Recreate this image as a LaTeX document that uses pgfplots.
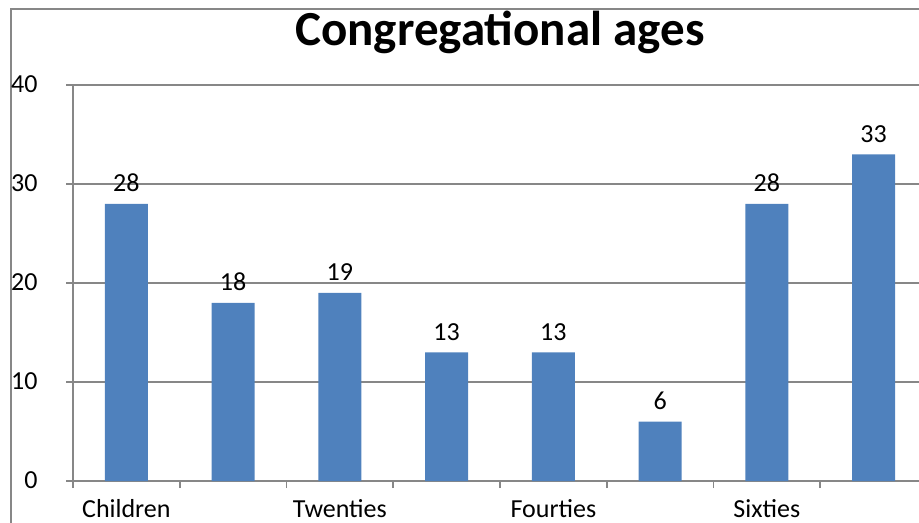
\documentclass[border=0pt]{standalone}
\usepackage{pgfplots}
\pgfplotsset{compat=1.18}
\usepackage{fontspec}
\setmainfont{Carlito}
\definecolor{barblue}{HTML}{4F81BD}
\definecolor{gridgray}{HTML}{878787}
\begin{document}
\begin{tikzpicture}
\clip (0pt,0pt) rectangle (459.5pt,-261.5pt);
\draw[gridgray, line width=0.9pt] (5.5pt,-300pt) -- (5.5pt,-4.5pt) -- (520pt,-4.5pt);
\begin{axis}[
  at={(36.5pt,-240.5pt)}, anchor=south west,
  scale only axis, width=427pt, height=198pt,
  xmin=-0.5, xmax=7.5, ymin=0, ymax=40,
  ytick={0,10,20,30,40},
  xtick={-0.5,0.5,...,7.5},
  xticklabels={},
  extra x ticks={0,2,4,6},
  extra x tick labels={Children,Twenties,Fourties,Sixties},
  extra x tick style={major tick length=0pt, grid=none,
     xticklabel style={anchor=base, yshift=-18pt, inner sep=0pt}},
  axis x line*=bottom, axis y line*=left,
  axis line style={gridgray, line width=0.9pt, -},
  tick style={gridgray, line width=0.9pt},
  major tick length=3.5pt,
  tick align=outside,
  ymajorgrids, grid style={gridgray, line width=0.9pt},
  tick label style={font=\fontsize{13}{15}\selectfont, text=black},
  yticklabel style={anchor=base east, inner sep=0pt, xshift=-14pt, yshift=-3.9pt},
  /pgf/number format/assume math mode=true,
  title={\fontsize{24.5}{28}\selectfont\bfseries Congregational ages},
  title style={anchor=base, at={(0.5,1)}, yshift=13.5pt, inner sep=0pt},
  clip=false,
]
\addplot[ybar, bar width=21.5pt, fill=barblue, draw=none,
  nodes near coords,
  every node near coord/.style={anchor=base, yshift=6pt, inner sep=0pt, font=\fontsize{13}{15}\selectfont, text=black}]
  coordinates {(0,28) (1,18) (2,19) (3,13) (4,13) (5,6) (6,28) (7,33)};
\end{axis}
\end{tikzpicture}
\end{document}
